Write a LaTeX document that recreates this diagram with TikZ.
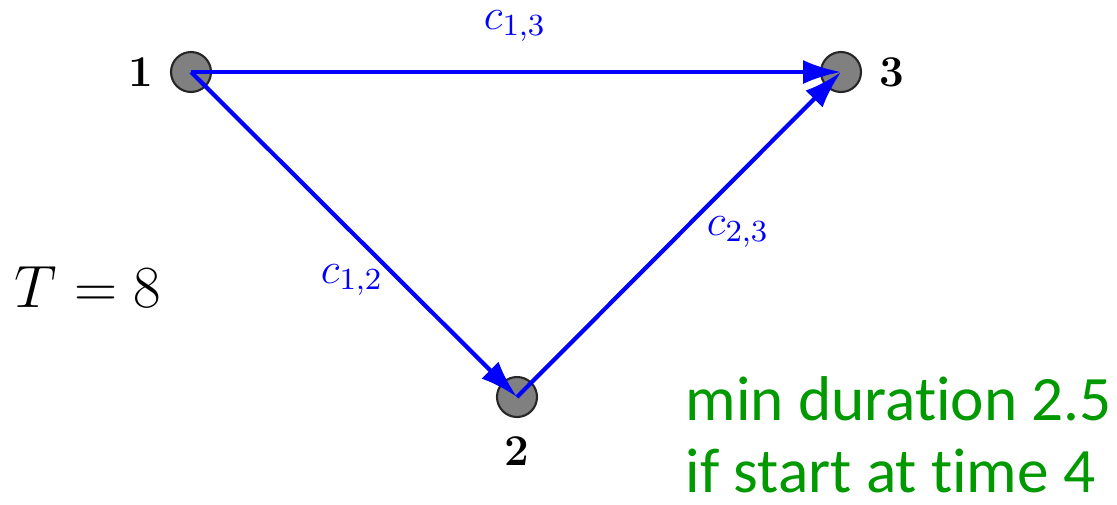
\documentclass[tikz,border=0pt]{standalone}
\RequirePackage{fix-cm}
\usepackage{fontspec}
\usepackage{tikz}
\usetikzlibrary{arrows.meta,positioning}
\newfontfamily\notefont[Ligatures={NoCommon}]{Carlito}
\definecolor{edgeblue}{HTML}{0000FF}
\definecolor{notegreen}{HTML}{009900}
\definecolor{vtxgray}{HTML}{808080}

\begin{document}
\begin{tikzpicture}[
    every node/.style={font=\small},
    vtx/.style={circle,draw=black!85,fill=vtxgray,line width=0.6pt,
                minimum size=0.4cm,inner sep=0pt},
    num/.style={font=\fontsize{12.5}{14}\selectfont\bfseries,inner sep=0pt},
    cost/.style={font=\fontsize{12.5}{15}\selectfont,text=edgeblue,inner sep=0pt},
    arr/.style={-{Latex[length=3.8mm,width=2.4mm]},draw=edgeblue,line width=1.2pt},
  ]
  \useasboundingbox (0,0) rectangle (11.17,5.04);
  % vertices
  \node[vtx] (v1) at (1.91,4.32) {};
  \node[vtx] (v2) at (5.17,1.07) {};
  \node[vtx] (v3) at (8.41,4.32) {};
  \node[num,left=0.16cm of v1] (n1) {1};
  \node[num,below=0.18cm of v2] (n2) {2};
  \node[num,right=0.17cm of v3] (n3) {3};
  % edges
  \draw[arr] (v1.center) -- (v3.center);
  \draw[arr] (v1.center) -- (v2.center);
  \draw[arr] (v2.center) -- (v3.center);
  \node[cost] (c13) at (5.15,4.78) {$c_{1,3}$};
  \node[cost] (c12) at (3.52,2.24) {$c_{1,2}$};
  \node[cost] (c23) at (7.38,2.72) {$c_{2,3}$};
  % horizon and note
  \node[font=\fontsize{17}{20}\selectfont,inner sep=0pt] (horizon) at (0.88,2.17) {$T=8$};
  \node[font=\notefont\fontsize{18}{20.7}\selectfont,text=notegreen,align=left,
        anchor=south west,inner sep=0pt] (note) at (6.85,0.1)
    {min duration 2.5\\if start at time 4};
\end{tikzpicture}
\end{document}
